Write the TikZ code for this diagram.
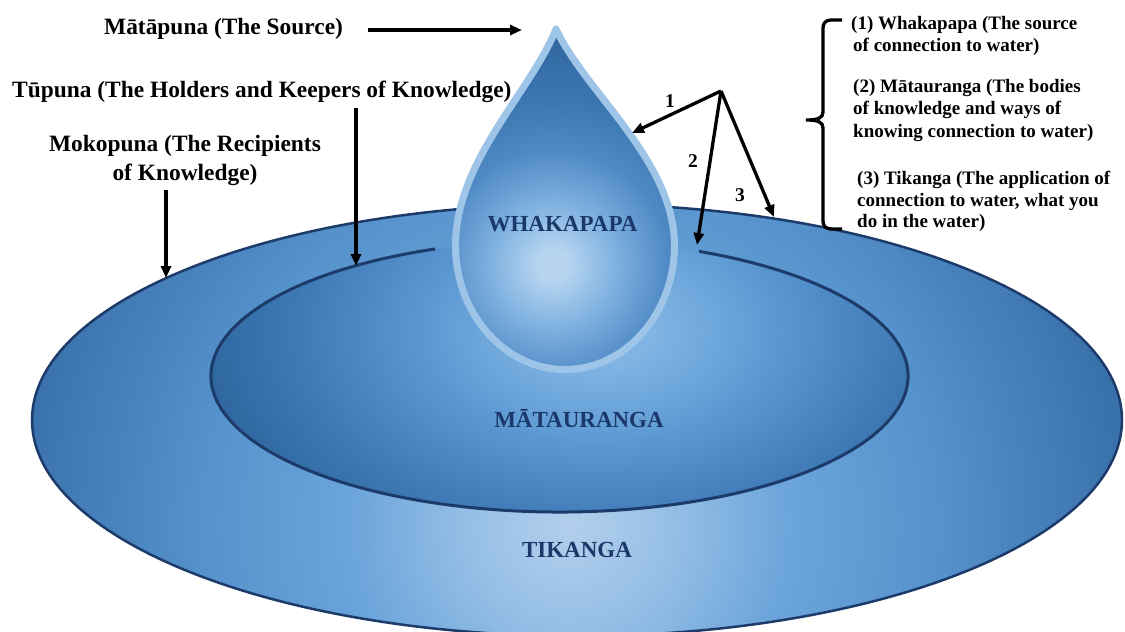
\documentclass[tikz,border=0pt]{standalone}
\usepackage{fontspec}
\setmainfont{Liberation Serif}
\usetikzlibrary{arrows.meta,calc}

% palette
\definecolor{navy}{HTML}{1B386A}
\definecolor{ringline}{HTML}{1C3B6A}
\definecolor{rim}{HTML}{9EC5E8}
\definecolor{dropA}{HTML}{B6D4F0}
\definecolor{dropB}{HTML}{7FB1E0}
\definecolor{dropC}{HTML}{508AC5}
\definecolor{dropD}{HTML}{3C76B1}
\definecolor{dropE}{HTML}{2A5F98}
\definecolor{outA}{HTML}{B2CFEC}
\definecolor{outB}{HTML}{97BFE6}
\definecolor{outC}{HTML}{6AA4DA}
\definecolor{outD}{HTML}{5591CB}
\definecolor{outE}{HTML}{427BB6}
\definecolor{outF}{HTML}{2E659E}
\definecolor{inA}{HTML}{8FBDE8}
\definecolor{inB}{HTML}{78AFE0}
\definecolor{inC}{HTML}{5B98D2}
\definecolor{inD}{HTML}{4680BD}
\definecolor{inE}{HTML}{3670AA}
\definecolor{inF}{HTML}{2F669F}

% radial shadings: 25bp is the rim of the shaded circle
\pgfdeclareradialshading{dropshade}{\pgfpoint{0bp}{0bp}}{color(0bp)=(dropA); color(1.5bp)=(dropA); color(6bp)=(dropB); color(11bp)=(dropC); color(16bp)=(dropD); color(25bp)=(dropE); color(50bp)=(dropE)}
\pgfdeclareradialshading{outershade}{\pgfpoint{0bp}{0bp}}{color(0bp)=(outA); color(4bp)=(outB); color(9bp)=(outC); color(15bp)=(outD); color(20bp)=(outE); color(25bp)=(outF); color(50bp)=(outF)}
\pgfdeclareradialshading{innershade}{\pgfpoint{0bp}{0bp}}{color(0bp)=(inA); color(5bp)=(inB); color(11bp)=(inC); color(17bp)=(inD); color(22bp)=(inE); color(25bp)=(inF); color(50bp)=(inF)}

\tikzset{
  lbl/.style={inner sep=0pt, font=\fontsize{23.4}{28}\selectfont\bfseries},
  rtxt/.style={inner sep=0pt, anchor=base west, font=\fontsize{19}{22}\selectfont\bfseries},
  ringlbl/.style={inner sep=0pt, anchor=base, text=navy, font=\fontsize{23}{28}\selectfont\bfseries},
  num/.style={inner sep=0pt, font=\fontsize{19.5}{22}\selectfont\bfseries},
  arr/.style={line width=3.3pt, -{Triangle[length=12pt,width=10pt]}},
}

\begin{document}
\begin{tikzpicture}[x=1pt,y=-1pt]
\useasboundingbox (0,0) rectangle (1125,632);
\fill[white] (0,0) rectangle (1125,632);

% outer ring: Tikanga
\path[draw=ringline, line width=2.5pt,
  path picture={\shade[shading=outershade] (570,525) circle[radius=620];}]
  (577,420) ellipse[x radius=545, y radius=216];

% inner ring: Matauranga
\path[path picture={\shade[shading=innershade] (600,330) ellipse[x radius=400, y radius=260];}]
  (559.5,376) ellipse[x radius=348.5, y radius=136];
\coordinate (inL) at ($(559.5,376)+(249.1:348.5 and 136)$);
\draw[ringline, line width=3pt] (inL) arc[start angle=249.1, end angle=-66.4, x radius=348.5, y radius=136];

% the drop: Whakapapa
\path[draw=rim, line width=7pt, line join=round,
  path picture={\shade[shading=dropshade] (553,265) circle[radius=260];}]
  (556,29) .. controls (531,92) and (456,160) .. (455.5,245)
  arc[start angle=180, end angle=0, x radius=109.5, y radius=124.5]
  .. controls (674,160) and (585,92) .. (556,29) -- cycle;

% ring labels
\node[ringlbl] (whaka) at (562.5,231.5) {WHAKAPAPA};
\node[ringlbl] (matau) at (579,427.5) {MĀTAURANGA};
\node[ringlbl] (tika) at (577,557.5) {TIKANGA};

% left labels
\node[lbl, anchor=base west] (mata) at (104,34.5) {Mātāpuna (The Source)};
\node[lbl, anchor=base west] (tupu) at (12,97.5) {Tūpuna (The Holders and Keepers of Knowledge)};
\node[lbl, anchor=base] (moko1) at (185,151.5) {Mokopuna (The Recipients};
\node[lbl, anchor=base] (moko2) at (185,180.5) {of Knowledge)};

% arrows from the left labels
\coordinate (mataS) at (368,30);
\coordinate (mataE) at (522,30);
\coordinate (tupuS) at (356,108);
\coordinate (tupuE) at (356,266);
\coordinate (mokoS) at (166,190);
\coordinate (mokoE) at (166,278);
\draw[arr] (mataS) -- (mataE);
\draw[arr] (tupuS) -- (tupuE);
\draw[arr] (mokoS) -- (mokoE);

% numbered fan
\coordinate (apex) at (721,91);
\coordinate (t1) at (632,133);
\coordinate (t2) at (697,245);
\coordinate (t3) at (774,217);
\draw[arr] (apex) -- (t1);
\draw[arr] (apex) -- (t2);
\draw[arr] (apex) -- (t3);
\node[num] (n1) at (670,101) {1};
\node[num] (n2) at (693,161) {2};
\node[num] (n3) at (740,195) {3};

% brace
\draw[line width=3.3pt] (842,20) -- (831,20) .. controls (826,20) and (823,23) .. (823,28)
  -- (823,112) .. controls (823,118) and (818,120) .. (806,120)
  .. controls (818,120) and (823,122) .. (823,128)
  -- (823,221) .. controls (823,226) and (826,229) .. (831,229) -- (842,229);

% explanations
\node[rtxt] (r1) at (851,29.5) {(1) Whakapapa (The source};
\node[rtxt] (r2) at (853,51) {of connection to water)};
\node[rtxt] (r3) at (853,92.5) {(2) Mātauranga (The bodies};
\node[rtxt] (r4) at (853,114.5) {of knowledge and ways of};
\node[rtxt] (r5) at (853,137.5) {knowing connection to water)};
\node[rtxt] (r6) at (857,184.5) {(3) Tikanga (The application of};
\node[rtxt] (r7) at (857,206.5) {connection to water, what you};
\node[rtxt] (r8) at (857,227.5) {do in the water)};
\end{tikzpicture}
\end{document}
